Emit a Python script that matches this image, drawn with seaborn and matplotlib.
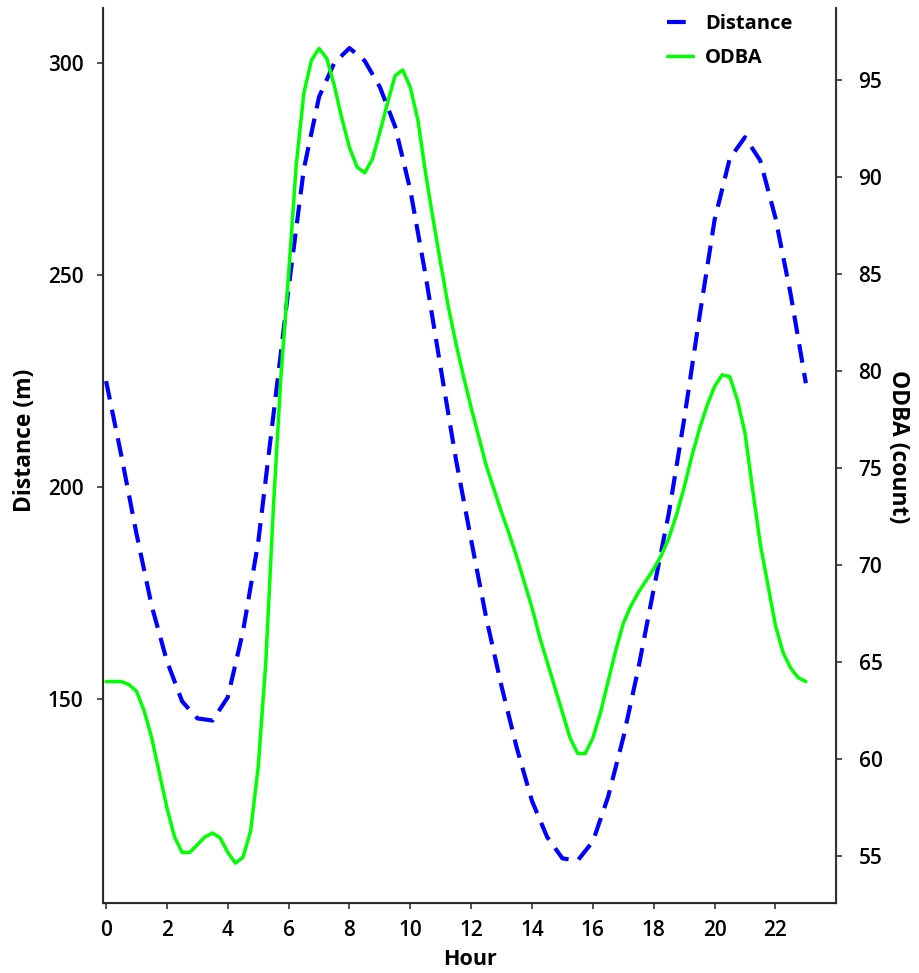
import numpy as np
import pandas as pd
import matplotlib
matplotlib.use("Agg")
import matplotlib.pyplot as plt
import seaborn as sns
from matplotlib.lines import Line2D

# hourly distance (m), every half hour
dist_hours = np.arange(0, 23.01, 0.5)
distance = [225, 207.5, 189, 172, 159, 149.5, 145.5, 145, 150.5, 166,
            187, 217, 247, 275, 292, 300, 303.5, 300.5, 294.3, 285,
            270, 250, 228, 206.5, 187.5, 169, 153, 138.5, 126, 117.5,
            112.5, 112, 116.5, 127, 141, 157.5, 176, 194, 216, 240,
            263, 277.5, 282.5, 277, 263.5, 245.5, 224.5]

# ODBA (count), every quarter hour
odba_hours = np.arange(0, 23.01, 0.25)
odba = [64.0, 64.0, 64.0, 63.85, 63.5, 62.5, 61.1, 59.3, 57.5, 56.0,
        55.2, 55.2, 55.6, 56.0, 56.2, 55.95, 55.2, 54.65, 54.95, 56.3,
        59.6, 65.0, 73.0, 79.8, 85.0, 90.6, 94.3, 96.0, 96.6, 96.1,
        94.7, 93.0, 91.5, 90.5, 90.2, 90.9, 92.3, 93.8, 95.2, 95.5,
        94.6, 92.9, 90.2, 87.8, 85.5, 83.3, 81.4, 79.7, 78.1, 76.6,
        75.1, 73.9, 72.7, 71.6, 70.4, 69.1, 67.8, 66.3, 65.0, 63.7,
        62.4, 61.1, 60.3, 60.3, 61.1, 62.4, 64.0, 65.6, 67.0, 67.9,
        68.6, 69.2, 69.8, 70.5, 71.4, 72.6, 74.0, 75.6, 77.0, 78.2,
        79.2, 79.8, 79.7, 78.5, 76.8, 73.9, 71.1, 69.0, 66.9, 65.5,
        64.7, 64.2, 64.0]

hour_ticks = list(range(0, 23, 2))
dist_ticks = [150, 200, 250, 300]
odba_ticks = [55, 60, 65, 70, 75, 80, 85, 90, 95]

df_dist = pd.DataFrame({"Hour": dist_hours, "Distance": distance})
df_odba = pd.DataFrame({"Hour": odba_hours, "ODBA": odba})

sns.set_style("ticks")
plt.rcParams['font.family'] = ['Open Sans', 'DejaVu Sans']
plt.rcParams['text.color'] = 'black'
plt.rcParams['axes.labelcolor'] = 'black'

fig = plt.figure(figsize=(9.2, 9.73), dpi=100)
ax = fig.add_axes([0.112, 0.072, 0.797, 0.92])
ax2 = ax.twinx()

dash = (0, (4.5, 2.5))
sns.lineplot(data=df_dist, x="Hour", y="Distance", ax=ax, color="#0000ff",
             linewidth=3, linestyle=dash)
sns.lineplot(data=df_odba, x="Hour", y="ODBA", ax=ax2, color="#00ff00",
             linewidth=2.5)

ax.set_xlim(-0.1, 24)
ax.set_ylim(102, 313)
ax2.set_ylim(52.6, 98.7)
ax.set_xticks(hour_ticks)
ax.set_yticks(dist_ticks)
ax2.set_yticks(odba_ticks)

ax.set_xlabel("Hour", fontsize=15.5, fontweight="bold", labelpad=6)
ax.set_ylabel("Distance (m)", fontsize=16.5, fontweight="bold", labelpad=8)
ax2.set_ylabel("ODBA (count)", fontsize=16.5, fontweight="bold", rotation=270,
               labelpad=20)
ax.yaxis.label.set_y(0.517)
ax2.yaxis.label.set_y(0.51)

for a in (ax, ax2):
    a.tick_params(labelsize=15, length=4, width=1.2, colors="#333333",
                  labelcolor="black")
    for lab in a.get_xticklabels() + a.get_yticklabels():
        lab.set_fontweight("semibold")
ax.tick_params(axis="y", pad=10)
ax2.tick_params(axis="y", pad=12)
ax.tick_params(axis="x", pad=8)

ax.spines["top"].set_visible(False)
ax2.spines["top"].set_visible(False)
for s in ["left", "bottom"]:
    ax.spines[s].set_linewidth(1.5)
    ax.spines[s].set_color("#333333")
ax2.spines["right"].set_linewidth(1.5)
ax2.spines["right"].set_color("#333333")

handles = [Line2D([0], [0], color="#0000ff", linewidth=3, linestyle=dash),
           Line2D([0], [0], color="#00ff00", linewidth=2.5)]
leg = ax2.legend(handles, ["Distance", "ODBA"], loc="upper right",
                 bbox_to_anchor=(0.965, 1.013), frameon=False,
                 prop={"size": 14.5, "weight": "bold"}, handlelength=1.3,
                 handletextpad=0.6, labelspacing=0.7)

fig.savefig("out.png", dpi=100)
